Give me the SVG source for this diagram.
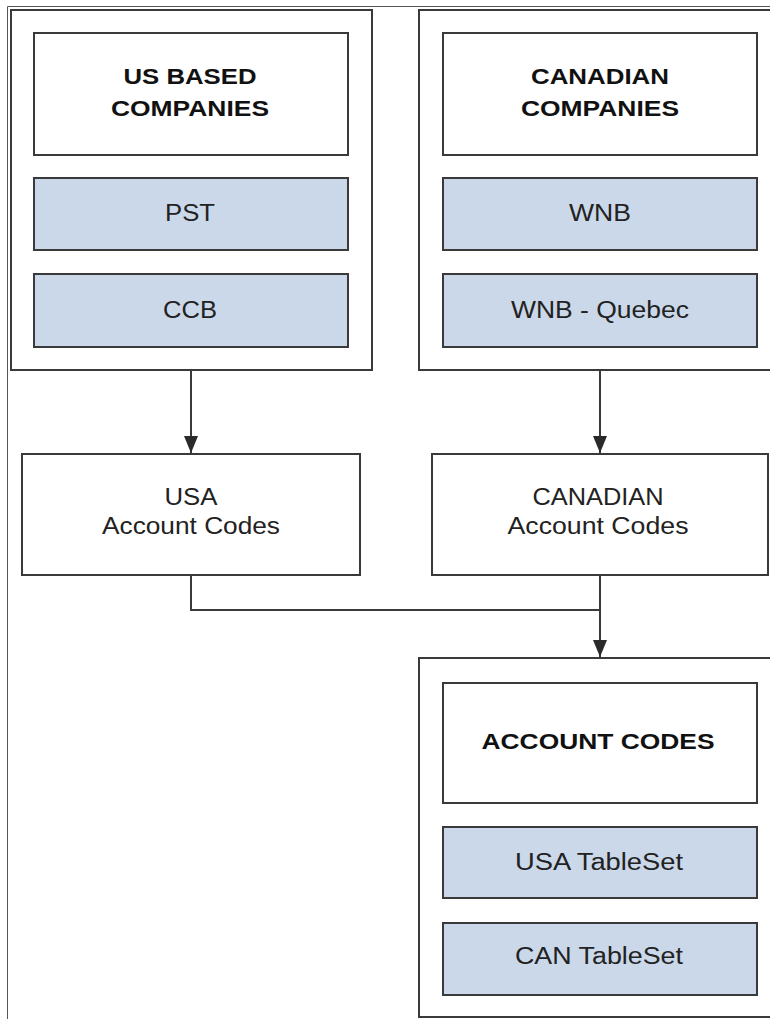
<svg xmlns="http://www.w3.org/2000/svg" width="770" height="1019" viewBox="0 0 770 1019">
<style>
.frame{fill:none;stroke:#555;stroke-width:1}
.outer{fill:#fff;stroke:#3a3a3a;stroke-width:2}
.box{fill:#fff;stroke:#3a3a3a;stroke-width:2}
.blue{fill:#cbd8ea;stroke:#3a3a3a;stroke-width:2}
.t{font-family:"Liberation Sans",Arial,sans-serif;font-size:23px;fill:#222;text-anchor:middle}
.b{font-family:"Liberation Sans",Arial,sans-serif;font-size:22.5px;font-weight:bold;fill:#111;text-anchor:middle}
.c{fill:none;stroke:#3a3a3a;stroke-width:2}
</style>
<defs>
<marker id="ah" markerWidth="17" markerHeight="14" refX="17" refY="7" orient="auto" markerUnits="userSpaceOnUse" viewBox="0 0 17 14">
<path d="M0,0 L17,7 L0,14 Z" fill="#2a2a2a"/>
</marker>
</defs>
<rect width="770" height="1019" fill="#fff"/>
<path class="frame" d="M7.5,1019 V6.5 H770"/>

<g id="us-companies">
<rect class="outer" x="11" y="10" width="361" height="360"/>
<rect class="box" x="34" y="33" width="314" height="122"/>
<text class="b" x="190" y="84" textLength="133" lengthAdjust="spacingAndGlyphs">US BASED</text>
<text class="b" x="190" y="116" textLength="158" lengthAdjust="spacingAndGlyphs">COMPANIES</text>
<g id="pst"><rect class="blue" x="34" y="178" width="314" height="72"/>
<text class="t" x="190" y="221" textLength="50" lengthAdjust="spacingAndGlyphs">PST</text></g>
<g id="ccb"><rect class="blue" x="34" y="274" width="314" height="73"/>
<text class="t" x="190" y="318" textLength="54" lengthAdjust="spacingAndGlyphs">CCB</text></g>
</g>

<g id="canadian-companies">
<rect class="outer" x="419" y="10" width="360" height="360"/>
<rect class="box" x="443" y="33" width="314" height="122"/>
<text class="b" x="600" y="84" textLength="138" lengthAdjust="spacingAndGlyphs">CANADIAN</text>
<text class="b" x="600" y="116" textLength="158" lengthAdjust="spacingAndGlyphs">COMPANIES</text>
<g id="wnb"><rect class="blue" x="443" y="178" width="314" height="72"/>
<text class="t" x="600" y="221" textLength="62" lengthAdjust="spacingAndGlyphs">WNB</text></g>
<g id="wnb-quebec"><rect class="blue" x="443" y="274" width="314" height="73"/>
<text class="t" x="600" y="318" textLength="178" lengthAdjust="spacingAndGlyphs">WNB - Quebec</text></g>
</g>

<g id="usa-account-codes">
<rect class="box" x="22" y="454" width="338" height="121"/>
<text class="t" x="191" y="505" textLength="53" lengthAdjust="spacingAndGlyphs">USA</text>
<text class="t" x="191" y="534" textLength="178" lengthAdjust="spacingAndGlyphs">Account Codes</text>
</g>

<g id="canadian-account-codes">
<rect class="box" x="432" y="454" width="336" height="121"/>
<text class="t" x="598" y="505" textLength="131" lengthAdjust="spacingAndGlyphs">CANADIAN</text>
<text class="t" x="598" y="534" textLength="181" lengthAdjust="spacingAndGlyphs">Account Codes</text>
</g>

<g id="account-codes">
<rect class="outer" x="419" y="658" width="360" height="359"/>
<rect class="box" x="443" y="683" width="314" height="120"/>
<text class="b" x="598" y="749" textLength="233" lengthAdjust="spacingAndGlyphs">ACCOUNT CODES</text>
<g id="usa-tableset"><rect class="blue" x="443" y="827" width="314" height="71"/>
<text class="t" x="599" y="870" textLength="168" lengthAdjust="spacingAndGlyphs">USA TableSet</text></g>
<g id="can-tableset"><rect class="blue" x="443" y="923" width="314" height="72"/>
<text class="t" x="599" y="964" textLength="168" lengthAdjust="spacingAndGlyphs">CAN TableSet</text></g>
</g>

<g id="connectors">
<path class="c" d="M191,371 V453" marker-end="url(#ah)"/>
<path class="c" d="M600,371 V453" marker-end="url(#ah)"/>
<path class="c" d="M191,576 V610 H600"/>
<path class="c" d="M600,576 V657" marker-end="url(#ah)"/>
</g>
</svg>
